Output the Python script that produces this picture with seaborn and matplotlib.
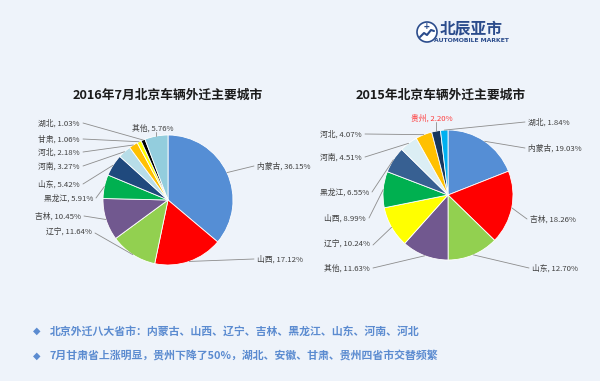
import numpy as np
import matplotlib
matplotlib.use("Agg")
import matplotlib.pyplot as plt
import seaborn as sns
from matplotlib.patches import Circle

# ---------------- data ----------------
left_title = "2016年7月北京车辆外迁主要城市"
left_labels = ["内蒙古", "山西", "辽宁", "吉林", "黑龙江", "山东", "河南", "河北", "甘肃", "湖北", "其他"]
left_values = [36.15, 17.12, 11.64, 10.45, 5.91, 5.42, 3.27, 2.18, 1.06, 1.03, 5.76]

right_title = "2015年北京车辆外迁主要城市"
right_labels = ["内蒙古", "吉林", "山东", "其他", "辽宁", "山西", "黑龙江", "河南", "河北", "贵州", "湖北"]
right_values = [19.03, 18.26, 12.70, 11.63, 10.24, 8.99, 6.55, 4.51, 4.07, 2.20, 1.84]

bullet_lines = [
    "北京外迁八大省市：内蒙古、山西、辽宁、吉林、黑龙江、山东、河南、河北",
    "7月甘肃省上涨明显，贵州下降了50%，湖北、安徽、甘肃、贵州四省市交替频繁",
]

# ---------------- styles / layout ----------------
left_colors = ["#558ED5", "#FF0000", "#92D050", "#71588F", "#00B050", "#1F497D",
               "#B7DDE8", "#FFC000", "#FFFF00", "#000000", "#93CDDD"]
right_colors = ["#558ED5", "#FF0000", "#92D050", "#71588F", "#FFFF00", "#00B050",
                "#376092", "#DBEEF4", "#FFC000", "#17375E", "#00B0F0"]

# label anchor positions in pixel coords (x, y from top), and alignment
left_label_pos = [(257, 166, "left"), (257, 259, "left"), (92, 233, "right"), (81, 216, "right"),
                  (93, 198, "right"), (80, 184, "right"), (80, 166, "right"), (80, 152, "right"),
                  (80, 139, "right"), (80, 123, "right"), (153, 128, "center")]
right_label_pos = [(528, 148, "left"), (530, 219, "left"), (532, 268, "left"), (370, 268, "right"),
                   (370, 245, "right"), (366, 218, "right"), (369, 192, "right"), (362, 157, "right"),
                   (362, 134, "right"), (432, 118, "center"), (528, 122, "left")]

BG = "#EEF3FA"
W, H = 600, 381

sns.set_theme(style="white")
plt.rcParams["font.family"] = ["Noto Sans CJK SC", "DejaVu Sans"]

fig = plt.figure(figsize=(W / 100, H / 100), dpi=100, facecolor=BG)
ax = fig.add_axes([0, 0, 1, 1])
ax.set_xlim(0, W)
ax.set_ylim(0, H)
ax.set_facecolor(BG)
ax.axis("off")


def Y(y):
    return H - y


def draw_pie(values, labels, colors, center, radius, label_pos, title, title_x, red_label=None):
    cx, cy = center
    ax.pie(values, colors=colors, startangle=90, counterclock=False,
           center=(cx, Y(cy)), radius=radius,
           wedgeprops=dict(edgecolor="white", linewidth=0.6), frame=True)
    total = sum(values)
    start = 90.0
    for v, lab, (lx, ly, ha) in zip(values, labels, label_pos):
        span = v / total * 360.0
        mid = np.deg2rad(start - span / 2)
        start -= span
        ex = cx + radius * np.cos(mid)
        ey = Y(cy) + radius * np.sin(mid)
        txt = f"{lab}, {v:.2f}%"
        color = "#FF3B3B" if lab == red_label else "#404040"
        if ha == "left":
            jx = lx - 3
        elif ha == "right":
            jx = lx + 3
        else:
            jx = lx
        jy = Y(ly)
        if ha == "center":
            ax.plot([ex, ex], [ey, Y(ly) - 4], color="#8C8C8C", lw=0.6)
        else:
            ax.plot([ex, jx], [ey, jy], color="#8C8C8C", lw=0.6)
        ax.text(lx, Y(ly), txt, ha=ha, va="center", fontsize=5.6, color=color)
    ax.text(title_x, Y(95), title, ha="center", va="center", fontsize=9.2,
            fontweight="bold", color="#1A1A1A")


draw_pie(left_values, left_labels, left_colors, (168, 200), 65, left_label_pos,
         left_title, 168)
draw_pie(right_values, right_labels, right_colors, (448, 195), 65, right_label_pos,
         right_title, 441, red_label="贵州")

ax.set_xlim(0, W)
ax.set_ylim(0, H)
ax.set_aspect("auto")
ax.axis("off")

# bullets
for i, line in enumerate(bullet_lines):
    yy = Y(331 + 25 * i)
    ax.text(37, yy, "◆", ha="center", va="center", fontsize=7, color="#5B8BD0",
            family=["DejaVu Sans"])
    ax.text(50, yy, line, ha="left", va="center", fontsize=7.85, fontweight="bold",
            color="#5B8BD0")

# logo
ax.add_patch(Circle((427, Y(32)), 10, facecolor="white", edgecolor="#2B4C8C", lw=1.2))
ax.plot([420, 424, 427, 431, 434], [Y(37), Y(33), Y(35), Y(30), Y(31)], color="#2B4C8C", lw=1.5)
ax.text(427, Y(27), "+", ha="center", va="center", fontsize=7, color="#2B4C8C", fontweight="bold")
ax.text(471, Y(28), "北辰亚市", ha="center", va="center", fontsize=11.3, fontweight="bold",
        color="#2B4C8C")
ax.text(471, Y(40), "AUTOMOBILE MARKET", ha="center", va="center", fontsize=4.4,
        fontweight="bold", color="#2B4C8C", family=["Liberation Sans Narrow", "DejaVu Sans"])

fig.savefig("out.png", dpi=100, facecolor=BG)
